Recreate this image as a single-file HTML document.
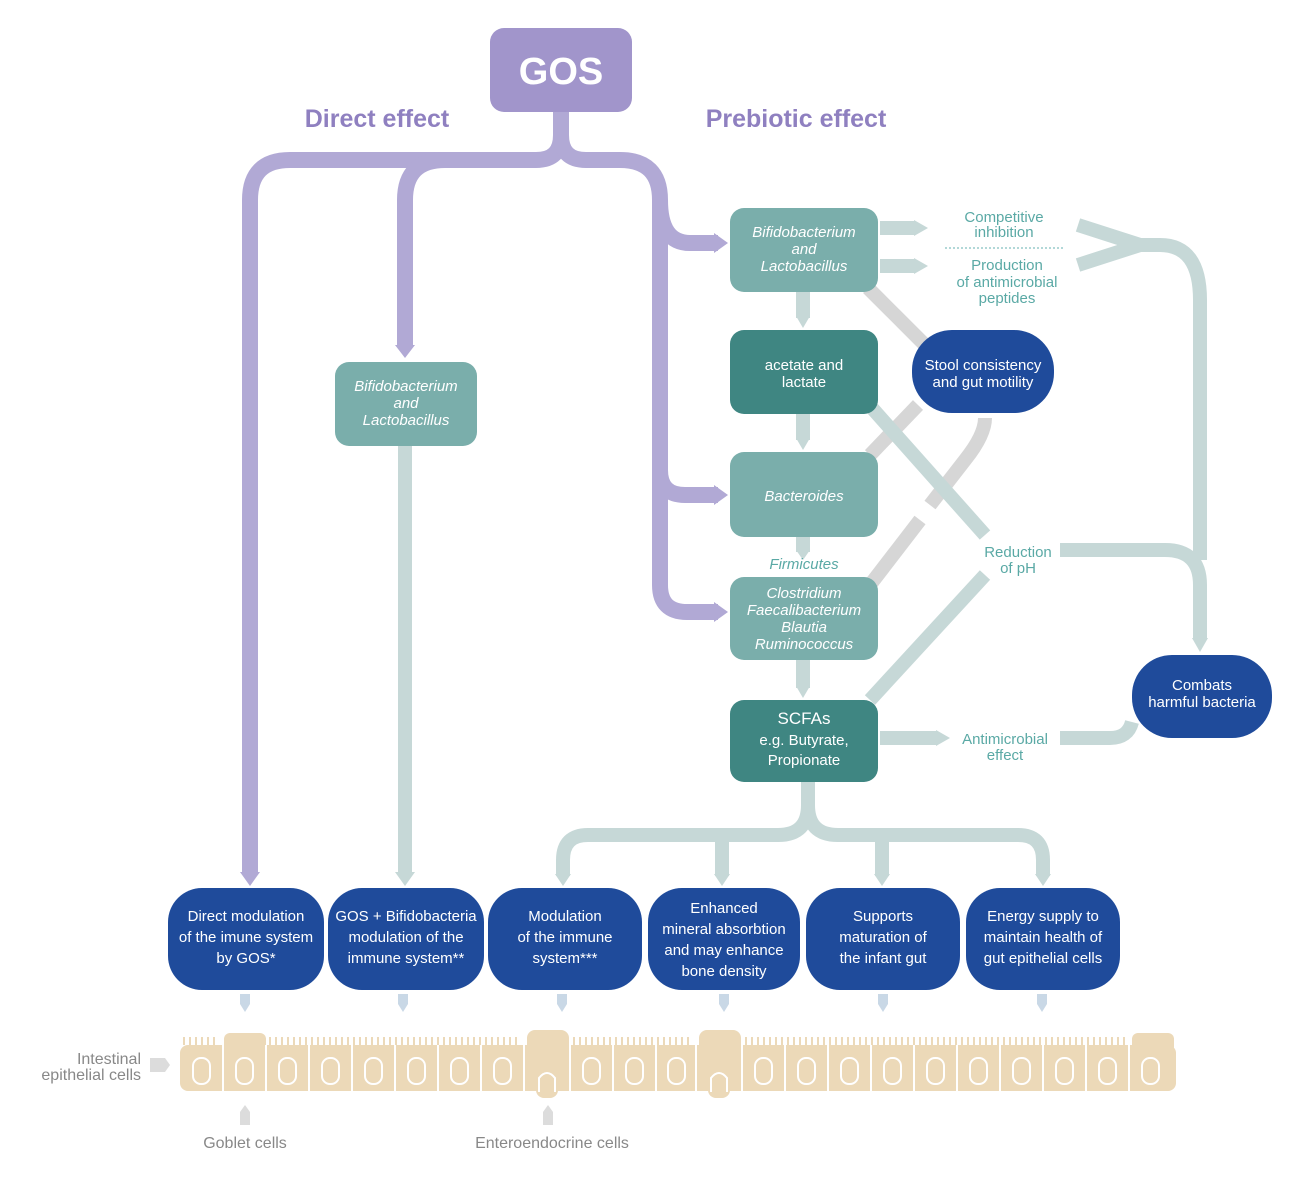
<!DOCTYPE html>
<html><head><meta charset="utf-8"><style>
html,body{margin:0;padding:0;background:#fff}
svg{display:block}
text{font-family:"Liberation Sans Narrow","Liberation Sans",sans-serif}
</style></head><body>
<svg width="1312" height="1188" viewBox="0 0 1312 1188" xmlns="http://www.w3.org/2000/svg">
<defs>
<marker id="ap" viewBox="0 0 10 10" refX="5" refY="5" markerWidth="1" markerHeight="1" orient="auto"></marker>
</defs>
<g fill="none" stroke-linecap="butt">
<!-- purple connectors -->
<g stroke="#b1a9d5" stroke-width="16">
<path d="M561 110 V135 Q561 160 536 160 H290 Q250 160 250 200 V872"/>
<path d="M561 135 Q561 160 586 160 H620 Q660 160 660 200 V585 Q660 612 687 612 H718"/>
<path d="M536 160 H445 Q405 160 405 200 V345"/>
<path d="M660 200 Q660 243 690 243 H718"/>
<path d="M660 470 Q660 495 685 495 H718"/>
</g>
<!-- grey diagonals -->
<g stroke="#d6d6d6" stroke-width="14">
<path d="M868 288 L930 350"/>
<path d="M870 585 L920 520"/>
<path d="M930 505 L965 460 Q985 435 985 418"/>
<path d="M870 455 L918 405"/>
</g>
<!-- grey-teal connectors -->
<g stroke="#c6d8d7" stroke-width="14">
<path d="M405 446 V872"/>
<path d="M803 292 V318"/><path d="M803 414 V440"/><path d="M803 537 V552"/><path d="M803 660 V688"/>
<path d="M872 408 L985 535"/>
<path d="M870 700 L985 575"/>
<path d="M880 228 H915"/><path d="M880 266 H915"/>
<path d="M880 738 H938"/>
<path d="M1060 738 H1110 Q1128 738 1132 722"/>
<path d="M1060 550 H1165 Q1200 550 1200 585 V640"/>
<path d="M1078 225 L1140 245 L1078 265"/>
<path d="M1140 245 H1160 Q1200 245 1200 300 V560"/>
<path d="M808 782 V805 Q808 835 778 835 H588 Q563 835 563 860 V876"/>
<path d="M808 805 Q808 835 838 835 H1018 Q1043 835 1043 860 V876"/>
<path d="M722 835 V876"/><path d="M882 835 V876"/>
</g>
<!-- dotted line -->
<path d="M945 248 H1065" stroke="#9cc" stroke-width="1.5" stroke-dasharray="2 2"/>
</g>
<!-- arrow heads -->
<g fill="#b1a9d5">
<polygon points="240,872 260,872 250,886"/>
<polygon points="395,345 415,345 405,358"/>
<polygon points="714,233 714,253 728,243"/>
<polygon points="714,485 714,505 728,495"/>
<polygon points="714,602 714,622 728,612"/>
</g>
<g fill="#c6d8d7">
<polygon points="395,872 415,872 405,886"/>
<polygon points="796,316 810,316 803,328"/><polygon points="796,438 810,438 803,450"/><polygon points="796,550 810,550 803,560"/><polygon points="796,686 810,686 803,698"/>
<polygon points="914,220 914,236 928,228"/><polygon points="914,258 914,274 928,266"/>
<polygon points="936,730 936,746 950,738"/>
<polygon points="1192,638 1208,638 1200,652"/>
<polygon points="555,874 571,874 563,886"/><polygon points="714,874 730,874 722,886"/><polygon points="874,874 890,874 882,886"/><polygon points="1035,874 1051,874 1043,886"/>
</g>
<g fill="#c9d8e6">
<rect x="240" y="994" width="10" height="10"/><polygon points="240,1004 250,1004 245,1012"/>
<rect x="398" y="994" width="10" height="10"/><polygon points="398,1004 408,1004 403,1012"/>
<rect x="557" y="994" width="10" height="10"/><polygon points="557,1004 567,1004 562,1012"/>
<rect x="719" y="994" width="10" height="10"/><polygon points="719,1004 729,1004 724,1012"/>
<rect x="878" y="994" width="10" height="10"/><polygon points="878,1004 888,1004 883,1012"/>
<rect x="1037" y="994" width="10" height="10"/><polygon points="1037,1004 1047,1004 1042,1012"/>
</g>
<!-- GOS -->
<rect x="490" y="28" width="142" height="84" rx="14" fill="#a195cb"/>
<text x="561" y="84" text-anchor="middle" fill="#fff" font-size="38" font-weight="bold">GOS</text>
<text x="377" y="127" text-anchor="middle" fill="#8f80c0" font-size="25" font-weight="bold">Direct effect</text>
<text x="796" y="127" text-anchor="middle" fill="#8f80c0" font-size="25" font-weight="bold">Prebiotic effect</text>
<!-- teal boxes -->
<g fill="#7aaeab">
<rect x="335" y="362" width="142" height="84" rx="14"/>
<rect x="730" y="208" width="148" height="84" rx="14"/>
<rect x="730" y="452" width="148" height="85" rx="14"/>
<rect x="730" y="577" width="148" height="83" rx="14"/>
</g>
<g fill="#3f8682">
<rect x="730" y="330" width="148" height="84" rx="14"/>
<rect x="730" y="700" width="148" height="82" rx="14"/>
</g>
<g fill="#1f4b9b">
<rect x="912" y="330" width="142" height="83" rx="40"/>
<rect x="1132" y="655" width="140" height="83" rx="40"/>
<rect x="168" y="888" width="156" height="102" rx="34"/>
<rect x="328" y="888" width="156" height="102" rx="34"/>
<rect x="488" y="888" width="154" height="102" rx="34"/>
<rect x="648" y="888" width="152" height="102" rx="34"/>
<rect x="806" y="888" width="154" height="102" rx="34"/>
<rect x="966" y="888" width="154" height="102" rx="34"/>
</g>
<g fill="#fff" font-size="15" text-anchor="middle" font-style="italic">
<text x="406" y="391">Bifidobacterium</text><text x="406" y="408">and</text><text x="406" y="425">Lactobacillus</text>
<text x="804" y="237">Bifidobacterium</text><text x="804" y="254">and</text><text x="804" y="271">Lactobacillus</text>
<text x="804" y="501">Bacteroides</text>
<text x="804" y="598">Clostridium</text><text x="804" y="615">Faecalibacterium</text><text x="804" y="632">Blautia</text><text x="804" y="649">Ruminococcus</text>
</g>
<g fill="#fff" font-size="15" text-anchor="middle">
<text x="804" y="370">acetate and</text><text x="804" y="387">lactate</text>
<text x="804" y="724" font-size="17">SCFAs</text><text x="804" y="745">e.g. Butyrate,</text><text x="804" y="765">Propionate</text>
<text x="983" y="370">Stool consistency</text><text x="983" y="387">and gut motility</text>
<text x="1202" y="690">Combats</text><text x="1202" y="707">harmful bacteria</text>
<text x="246" y="921">Direct modulation</text><text x="246" y="942">of the imune system</text><text x="246" y="963">by GOS*</text>
<text x="406" y="921">GOS + Bifidobacteria</text><text x="406" y="942">modulation of the</text><text x="406" y="963">immune system**</text>
<text x="565" y="921">Modulation</text><text x="565" y="942">of the immune</text><text x="565" y="963">system***</text>
<text x="724" y="913">Enhanced</text><text x="724" y="934">mineral absorbtion</text><text x="724" y="955">and may enhance</text><text x="724" y="976">bone density</text>
<text x="883" y="921">Supports</text><text x="883" y="942">maturation of</text><text x="883" y="963">the infant gut</text>
<text x="1043" y="921">Energy supply to</text><text x="1043" y="942">maintain health of</text><text x="1043" y="963">gut epithelial cells</text>
</g>
<g fill="#5aa9a5" font-size="15" text-anchor="middle">
<text x="1004" y="222">Competitive</text><text x="1004" y="237">inhibition</text>
<text x="1007" y="270">Production</text><text x="1007" y="287">of antimicrobial</text><text x="1007" y="303">peptides</text>
<text x="1018" y="557">Reduction</text><text x="1018" y="573">of pH</text>
<text x="1005" y="744">Antimicrobial</text><text x="1005" y="760">effect</text>
<text x="804" y="569" font-style="italic">Firmicutes</text>
</g>
<!-- epithelium -->
<g fill="#ecd9b8">
<rect x="180" y="1045" width="996" height="46" rx="8"/>
<rect x="224" y="1033" width="42" height="20" rx="6"/>
<rect x="527" y="1030" width="42" height="24" rx="8"/>
<rect x="699" y="1030" width="42" height="24" rx="8"/>
<rect x="1132" y="1033" width="42" height="20" rx="6"/>
<rect x="536" y="1080" width="22" height="18" rx="8"/>
<rect x="708" y="1080" width="22" height="18" rx="8"/>
</g>
<g stroke="#ecd9b8" stroke-width="2">
<path d="M184 1045 V1037 M190 1045 V1037 M196 1045 V1037 M202 1045 V1037 M208 1045 V1037 M214 1045 V1037 M270 1045 V1037 M276 1045 V1037 M282 1045 V1037 M288 1045 V1037 M294 1045 V1037 M300 1045 V1037 M306 1045 V1037 M312 1045 V1037 M318 1045 V1037 M324 1045 V1037 M330 1045 V1037 M336 1045 V1037 M342 1045 V1037 M348 1045 V1037 M354 1045 V1037 M360 1045 V1037 M366 1045 V1037 M372 1045 V1037 M378 1045 V1037 M384 1045 V1037 M390 1045 V1037 M396 1045 V1037 M402 1045 V1037 M408 1045 V1037 M414 1045 V1037 M420 1045 V1037 M426 1045 V1037 M432 1045 V1037 M438 1045 V1037 M444 1045 V1037 M450 1045 V1037 M456 1045 V1037 M462 1045 V1037 M468 1045 V1037 M474 1045 V1037 M480 1045 V1037 M486 1045 V1037 M492 1045 V1037 M498 1045 V1037 M504 1045 V1037 M510 1045 V1037 M516 1045 V1037 M574 1045 V1037 M580 1045 V1037 M586 1045 V1037 M592 1045 V1037 M598 1045 V1037 M604 1045 V1037 M610 1045 V1037 M616 1045 V1037 M622 1045 V1037 M628 1045 V1037 M634 1045 V1037 M640 1045 V1037 M646 1045 V1037 M652 1045 V1037 M658 1045 V1037 M664 1045 V1037 M670 1045 V1037 M676 1045 V1037 M682 1045 V1037 M688 1045 V1037 M746 1045 V1037 M752 1045 V1037 M758 1045 V1037 M764 1045 V1037 M770 1045 V1037 M776 1045 V1037 M782 1045 V1037 M788 1045 V1037 M794 1045 V1037 M800 1045 V1037 M806 1045 V1037 M812 1045 V1037 M818 1045 V1037 M824 1045 V1037 M830 1045 V1037 M836 1045 V1037 M842 1045 V1037 M848 1045 V1037 M854 1045 V1037 M860 1045 V1037 M866 1045 V1037 M872 1045 V1037 M878 1045 V1037 M884 1045 V1037 M890 1045 V1037 M896 1045 V1037 M902 1045 V1037 M908 1045 V1037 M914 1045 V1037 M920 1045 V1037 M926 1045 V1037 M932 1045 V1037 M938 1045 V1037 M944 1045 V1037 M950 1045 V1037 M956 1045 V1037 M962 1045 V1037 M968 1045 V1037 M974 1045 V1037 M980 1045 V1037 M986 1045 V1037 M992 1045 V1037 M998 1045 V1037 M1004 1045 V1037 M1010 1045 V1037 M1016 1045 V1037 M1022 1045 V1037 M1028 1045 V1037 M1034 1045 V1037 M1040 1045 V1037 M1046 1045 V1037 M1052 1045 V1037 M1058 1045 V1037 M1064 1045 V1037 M1070 1045 V1037 M1076 1045 V1037 M1082 1045 V1037 M1088 1045 V1037 M1094 1045 V1037 M1100 1045 V1037 M1106 1045 V1037 M1112 1045 V1037 M1118 1045 V1037 M1124 1045 V1037"/>
</g>
<g fill="none" stroke="#fff" stroke-width="2">
<path d="M223 1045 V1091 M266 1045 V1091 M309 1045 V1091 M352 1045 V1091 M395 1045 V1091 M438 1045 V1091 M481 1045 V1091 M524 1045 V1091 M570 1045 V1091 M613 1045 V1091 M656 1045 V1091 M696 1045 V1091 M742 1045 V1091 M785 1045 V1091 M828 1045 V1091 M871 1045 V1091 M914 1045 V1091 M957 1045 V1091 M1000 1045 V1091 M1043 1045 V1091 M1086 1045 V1091 M1129 1045 V1091"/>
<rect x="193" y="1058" width="17" height="26" rx="8"/><rect x="236" y="1058" width="17" height="26" rx="8"/><rect x="279" y="1058" width="17" height="26" rx="8"/><rect x="322" y="1058" width="17" height="26" rx="8"/><rect x="365" y="1058" width="17" height="26" rx="8"/><rect x="408" y="1058" width="17" height="26" rx="8"/><rect x="451" y="1058" width="17" height="26" rx="8"/><rect x="494" y="1058" width="17" height="26" rx="8"/>
<path d="M539 1092 V1078 Q547 1068 555 1078 V1092"/>
<rect x="583" y="1058" width="17" height="26" rx="8"/><rect x="626" y="1058" width="17" height="26" rx="8"/><rect x="668" y="1058" width="17" height="26" rx="8"/>
<path d="M711 1092 V1078 Q719 1068 727 1078 V1092"/>
<rect x="755" y="1058" width="17" height="26" rx="8"/><rect x="798" y="1058" width="17" height="26" rx="8"/><rect x="841" y="1058" width="17" height="26" rx="8"/><rect x="884" y="1058" width="17" height="26" rx="8"/><rect x="927" y="1058" width="17" height="26" rx="8"/><rect x="970" y="1058" width="17" height="26" rx="8"/><rect x="1013" y="1058" width="17" height="26" rx="8"/><rect x="1056" y="1058" width="17" height="26" rx="8"/><rect x="1099" y="1058" width="17" height="26" rx="8"/><rect x="1142" y="1058" width="17" height="26" rx="8"/>
</g>
<g fill="#dcdcdc">
<polygon points="150,1058 165,1058 170,1065 165,1072 150,1072"/>
<polygon points="240,1125 240,1112 245,1105 250,1112 250,1125"/>
<polygon points="543,1125 543,1112 548,1105 553,1112 553,1125"/>
</g>
<g fill="#888" font-size="16">
<text x="141" y="1064" text-anchor="end">Intestinal</text>
<text x="141" y="1080" text-anchor="end">epithelial cells</text>
<text x="245" y="1148" text-anchor="middle">Goblet cells</text>
<text x="552" y="1148" text-anchor="middle">Enteroendocrine cells</text>
</g>
</svg>
</body></html>
